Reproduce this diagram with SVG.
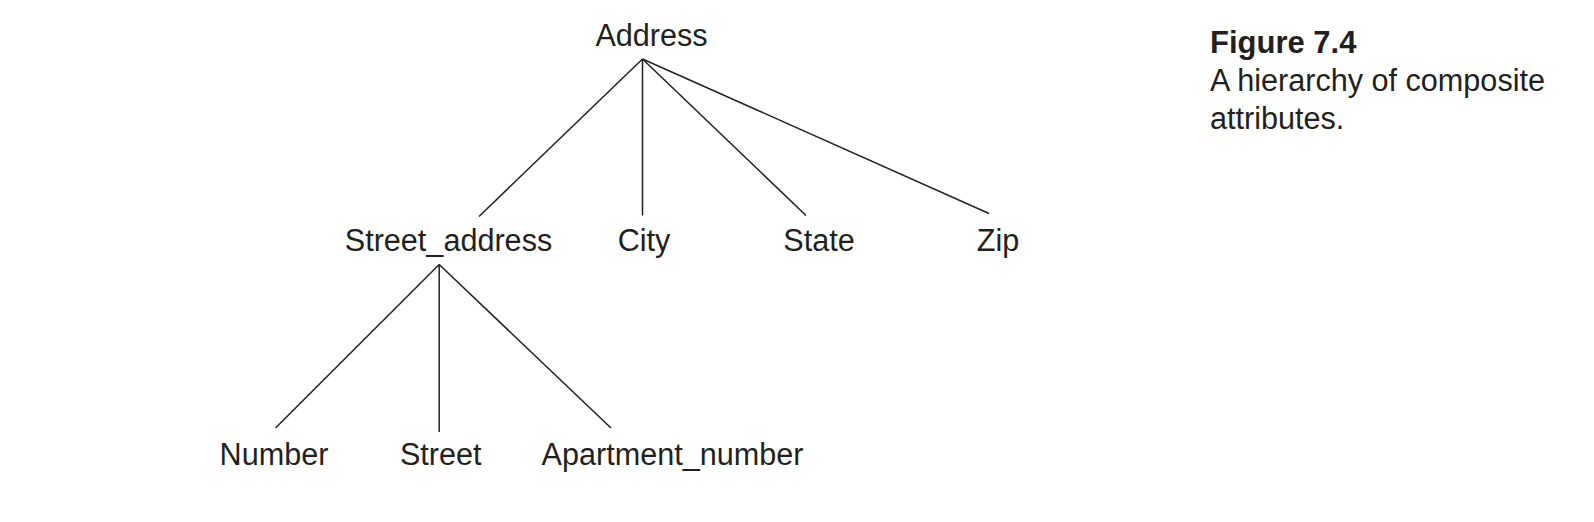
<svg xmlns="http://www.w3.org/2000/svg" width="1594" height="522" viewBox="0 0 1594 522">
<style>
.t{font-family:"Liberation Sans",Arial,sans-serif;font-size:30.6px;fill:#231f20;text-anchor:middle}
.c{font-family:"Liberation Sans",Arial,sans-serif;font-size:30.6px;fill:#231f20}
.b{font-weight:bold;font-size:31px}
#edges line{stroke:#231f20;stroke-width:1.5;fill:none}
</style>
<rect width="1594" height="522" fill="#ffffff"/>
<g id="edges">
<line x1="642.5" y1="59" x2="479" y2="216.5"/>
<line x1="642.5" y1="59" x2="642.5" y2="215.5"/>
<line x1="642.5" y1="59" x2="806" y2="215.5"/>
<line x1="642.5" y1="59" x2="989" y2="213.5"/>
<line x1="439.2" y1="264.5" x2="275.5" y2="428"/>
<line x1="439.2" y1="264.5" x2="439.2" y2="432"/>
<line x1="439.2" y1="264.5" x2="611" y2="428"/>
</g>
<g id="n-address"><text class="t" x="651.5" y="46">Address</text></g>
<g id="n-street-address"><text class="t" x="448.5" y="251">Street_address</text></g>
<g id="n-city"><text class="t" x="644" y="251">City</text></g>
<g id="n-state"><text class="t" x="819" y="251">State</text></g>
<g id="n-zip"><text class="t" x="998" y="251">Zip</text></g>
<g id="n-number"><text class="t" x="274" y="464.5">Number</text></g>
<g id="n-street"><text class="t" x="440.7" y="464.5">Street</text></g>
<g id="n-apartment"><text class="t" x="672.5" y="464.5">Apartment_number</text></g>
<g id="caption">
<text class="c b" x="1210" y="53">Figure 7.4</text>
<text class="c" x="1210" y="90.5">A hierarchy of composite</text>
<text class="c" x="1210" y="129">attributes.</text>
</g>
</svg>
